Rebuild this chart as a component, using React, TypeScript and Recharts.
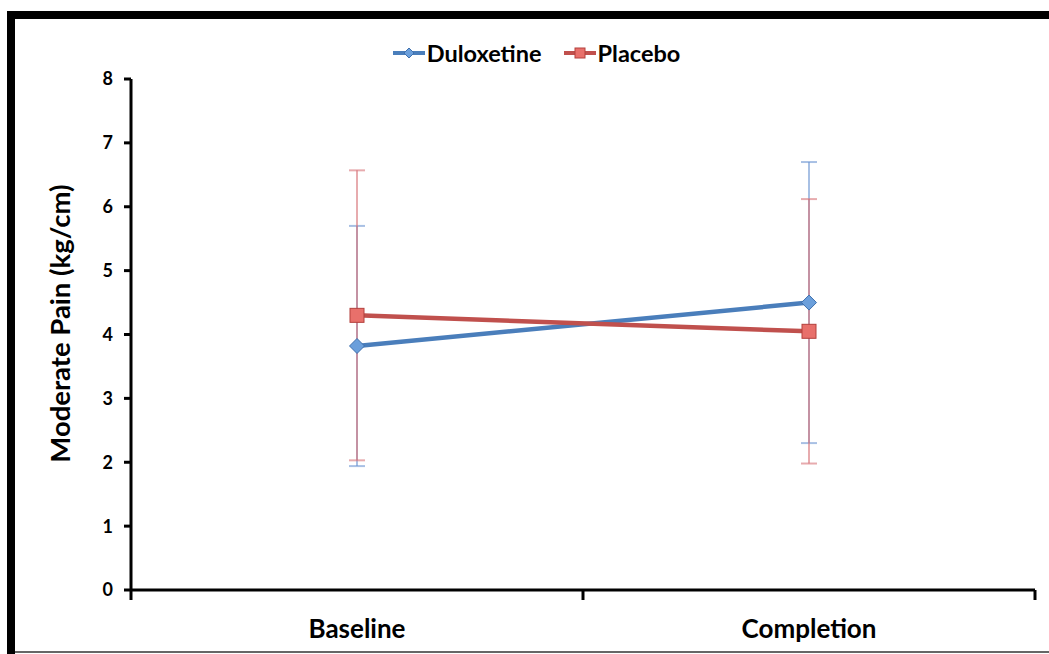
import React from 'react';
import { LineChart, Line, XAxis, YAxis, ErrorBar, Legend } from 'recharts';

const categories = ['Baseline', 'Completion'];
const duloxetine = [3.82, 4.5];
const duloxetineErr = [1.88, 2.2];
const placebo = [4.3, 4.05];
const placeboErr = [2.27, 2.07];
const yTicks = [0, 1, 2, 3, 4, 5, 6, 7, 8];

const data = categories.map((name, i) => ({
  name,
  duloxetine: duloxetine[i],
  duloxetineErr: duloxetineErr[i],
  placebo: placebo[i],
  placeboErr: placeboErr[i],
}));

const FONT = 'Lato, "DejaVu Sans", sans-serif';
const BLUE = '#4a7ebb';
const RED = '#c0504d';

const diamondPath = (cx: number, cy: number, r: number) =>
  `M${cx},${cy - r} L${cx + r},${cy} L${cx},${cy + r} L${cx - r},${cy} Z`;

const DiamondDot = (props: any) => {
  const { cx, cy, index } = props;
  if (cx == null || cy == null) return null;
  return <path key={`d${index}`} d={diamondPath(cx, cy, 7.5)} fill="#6b9fdb" stroke="#3e70ad" strokeWidth={1} />;
};

const SquareDot = (props: any) => {
  const { cx, cy, index } = props;
  if (cx == null || cy == null) return null;
  return <rect key={`s${index}`} x={cx - 7} y={cy - 7} width={14} height={14} fill="#e8706b" stroke="#b3403c" strokeWidth={1} />;
};

// category label at band centre, tick marks at the band edges (Excel "between categories")
const CategoryTick = (props: any) => {
  const { x, y, payload, index } = props;
  const half = payload?.offset ?? 0;
  return (
    <g>
      {index === 0 && <line x1={x - half} y1={y} x2={x - half} y2={y + 10} stroke="#000" strokeWidth={3} />}
      <line x1={x + half} y1={y} x2={x + half} y2={y + 10} stroke="#000" strokeWidth={3} />
      <text x={x} y={y + 48} textAnchor="middle" fill="#000" fontSize={26} fontWeight={700} fontFamily={FONT}>
        {payload.value}
      </text>
    </g>
  );
};

const LegendContent = () => (
  <div style={{ display: 'flex', justifyContent: 'center', alignItems: 'center', marginLeft: 24, fontFamily: FONT, fontWeight: 700, fontSize: 23.5, color: '#000' }}>
    <svg width={32} height={14} style={{ marginRight: 2 }}>
      <line x1={0} y1={7} x2={32} y2={7} stroke={BLUE} strokeWidth={4} />
      <path d={diamondPath(16, 7, 5)} fill="#6b9fdb" stroke="#3e70ad" strokeWidth={1} />
    </svg>
    <span>Duloxetine</span>
    <svg width={32} height={14} style={{ marginLeft: 22, marginRight: 2 }}>
      <line x1={0} y1={7} x2={32} y2={7} stroke={RED} strokeWidth={4} />
      <rect x={11} y={2} width={10} height={10} fill="#e8706b" stroke="#b3403c" strokeWidth={1} />
    </svg>
    <span>Placebo</span>
  </div>
);

export default function App() {
  return (
    <div style={{ position: 'absolute', left: 0, top: 0, width: 1049, height: 654, background: '#fff', overflow: 'hidden' }}>
      <div style={{ position: 'absolute', left: 7, top: 11, width: 1042, height: 8, background: '#000' }} />
      <div style={{ position: 'absolute', left: 7, top: 11, width: 8, height: 643, background: '#000' }} />
      <div style={{ position: 'absolute', left: 15, top: 651, width: 1034, height: 2, background: '#666' }} />
      <div style={{ position: 'absolute', left: 0, top: 0 }}>
        <LineChart width={1049} height={654} data={data} margin={{ top: 79, right: 14, bottom: 34, left: 91 }}>
          <Legend
            verticalAlign="middle"
            align="center"
            content={<LegendContent />}
            wrapperStyle={{ top: 39, left: 0, width: 1049 }}
          />
          <XAxis
            dataKey="name"
            scale="band"
            height={30}
            axisLine={{ stroke: '#000', strokeWidth: 3 }}
            tickLine={false}
            tickSize={0}
            tickMargin={0}
            tick={CategoryTick}
          />
          <YAxis
            domain={[0, 8]}
            ticks={yTicks}
            width={40}
            tickSize={7}
            tickMargin={11}
            axisLine={{ stroke: '#000', strokeWidth: 3 }}
            tickLine={{ stroke: '#000', strokeWidth: 3 }}
            tick={{ fill: '#000', fontSize: 18, fontWeight: 700, fontFamily: FONT }}
            label={{
              value: 'Moderate Pain (kg/cm)',
              angle: -90,
              position: 'center',
              dx: -51,
              dy: -11,
              style: { fill: '#000', fontSize: 27.5, fontWeight: 700, fontFamily: FONT },
            }}
          />
          <Line
            dataKey="duloxetine"
            name="Duloxetine"
            stroke={BLUE}
            strokeWidth={4.5}
            dot={DiamondDot}
            activeDot={false}
            isAnimationActive={false}
          >
            <ErrorBar dataKey="duloxetineErr" direction="y" width={8} stroke="rgba(110,150,210,0.6)" strokeWidth={2} />
          </Line>
          <Line
            dataKey="placebo"
            name="Placebo"
            stroke={RED}
            strokeWidth={4.5}
            dot={SquareDot}
            activeDot={false}
            isAnimationActive={false}
          >
            <ErrorBar dataKey="placeboErr" direction="y" width={8} stroke="rgba(215,115,120,0.6)" strokeWidth={2} />
          </Line>
        </LineChart>
      </div>
    </div>
  );
}
